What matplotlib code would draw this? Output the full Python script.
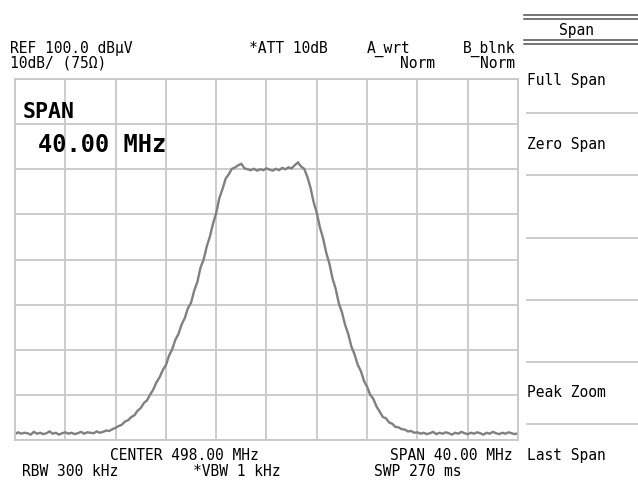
import numpy as np
import matplotlib
matplotlib.use("Agg")
import matplotlib.pyplot as plt
from matplotlib.lines import Line2D

start_mhz = 478.0
stop_mhz = 518.0
ref_level = 100.0
db_per_div = 10.0
level_dbuv = [
    21.3, 21.7, 21.4, 21.6,
    21.5, 21.2, 21.8, 21.4,
    21.6, 21.3, 21.5, 21.9,
    21.4, 21.6, 21.2, 21.5,
    21.7, 21.4, 21.6, 21.3,
    21.5, 21.8, 21.4, 21.7,
    21.6, 21.5, 21.9, 21.6,
    21.8, 22.1, 22.0, 22.4,
    22.7, 23.1, 23.4, 24.1,
    24.4, 25.1, 25.5, 26.5,
    27.1, 28.2, 28.8, 30.1,
    31.2, 32.8, 33.9, 35.5,
    36.6, 38.7, 40.1, 42.2,
    43.5, 45.6, 47.0, 49.2,
    50.4, 53.1, 55.0, 58.2,
    60.0, 62.9, 65.1, 68.0,
    70.3, 73.6, 75.6, 77.9,
    78.9, 80.1, 80.4, 80.9,
    81.2, 80.2, 80.0, 79.8,
    80.1, 79.7, 80.0, 79.8,
    80.2, 79.9, 79.7, 80.1,
    79.8, 80.3, 80.0, 80.4,
    80.2, 80.9, 81.5, 80.6,
    80.1, 78.3, 75.9, 72.7,
    70.3, 67.1, 64.7, 61.5,
    59.1, 55.8, 53.5, 50.3,
    48.3, 45.5, 43.5, 40.7,
    39.0, 36.7, 35.3, 33.1,
    31.8, 30.0, 29.1, 27.4,
    26.3, 25.1, 24.8, 23.9,
    23.6, 22.9, 22.8, 22.4,
    22.3, 21.9, 22.0, 21.6,
    21.7, 21.4, 21.6, 21.3,
    21.5, 21.8, 21.3, 21.6,
    21.4, 21.7, 21.5, 21.2,
    21.6, 21.4, 21.8, 21.5,
    21.3, 21.6, 21.4, 21.7,
    21.5, 21.2, 21.6, 21.4,
    21.8, 21.5, 21.3, 21.6,
    21.4, 21.7, 21.5, 21.3,
    21.5,
]
header_left = ["REF 100.0 dB\u03bcV", "10dB/ (75\u03a9)"]
header_right = ["*ATT 10dB", "A_wrt", "B_blnk", "Norm", "Norm"]
footer = ["CENTER 498.00 MHz", "SPAN 40.00 MHz", "RBW 300 kHz", "*VBW 1 kHz", "SWP 270 ms"]
menu_title = "Span"
menu_items = ["Full Span", "Zero Span", "Peak Zoom", "Last Span"]
active_label = ["SPAN", "40.00 MHz"]

W, H = 638, 484
fig = plt.figure(figsize=(W / 100, H / 100), dpi=100)
fig.patch.set_facecolor("white")

def fx(x):
    return x / W

def fy(y):
    return 1 - y / H

# ---- graticule ----
gl, gr, gt, gb = 15, 518, 79, 440
ax = fig.add_axes([fx(gl), fy(gb), (gr - gl) / W, (gb - gt) / H])
n_x_div, n_y_div = 10, 8
ax.set_xlim(start_mhz, stop_mhz)
ax.set_ylim(ref_level - n_y_div * db_per_div, ref_level)
ax.set_xticks(np.linspace(start_mhz, stop_mhz, n_x_div + 1))
ax.set_yticks(np.linspace(ref_level - n_y_div * db_per_div, ref_level, n_y_div + 1))
ax.tick_params(length=0, labelbottom=False, labelleft=False)
ax.grid(True, color="#c8c8c8", linewidth=1.3)
for s in ax.spines.values():
    s.set_color("#c8c8c8")
    s.set_linewidth(1.3)

freq = np.linspace(start_mhz, stop_mhz, len(level_dbuv))
ax.plot(freq, level_dbuv, color="#808080", linewidth=1.7, solid_joinstyle="miter")

mono = "DejaVu Sans Mono"
fs = 10.5

def t(x, y, s, ha="left", size=fs, weight="normal"):
    fig.text(fx(x), fy(y), s, ha=ha, va="baseline", fontsize=size,
             family=mono, weight=weight, color="black")

# header
t(10, 53, header_left[0])
t(10, 68, header_left[1])
t(288, 53, header_right[0], ha="center")
t(389, 53, header_right[1], ha="center")
t(515, 53, header_right[2], ha="right")
t(435, 68, header_right[3], ha="right")
t(515, 68, header_right[4], ha="right")

# active function
t(23, 118, active_label[0], size=15.5, weight="bold")
t(38, 152, active_label[1], size=17, weight="bold")

# footer
t(184, 460, footer[0], ha="center")
t(513, 460, footer[1], ha="right")
t(22, 476, footer[2])
t(237, 476, footer[3], ha="center")
t(418, 476, footer[4], ha="center")

# soft menu
for y in (15, 19, 40, 44):
    fig.add_artist(Line2D([fx(524), fx(638)], [fy(y), fy(y)], color="#505050", linewidth=1.1))
for y in (113, 175, 238, 300, 362, 424):
    fig.add_artist(Line2D([fx(527), fx(638)], [fy(y), fy(y)], color="#c8c8c8", linewidth=1.3))
t(576, 35, menu_title, ha="center")
t(527, 85, menu_items[0])
t(527, 149, menu_items[1])
t(527, 397, menu_items[2])
t(527, 460, menu_items[3])

fig.savefig("out.png", dpi=100, facecolor="white")
